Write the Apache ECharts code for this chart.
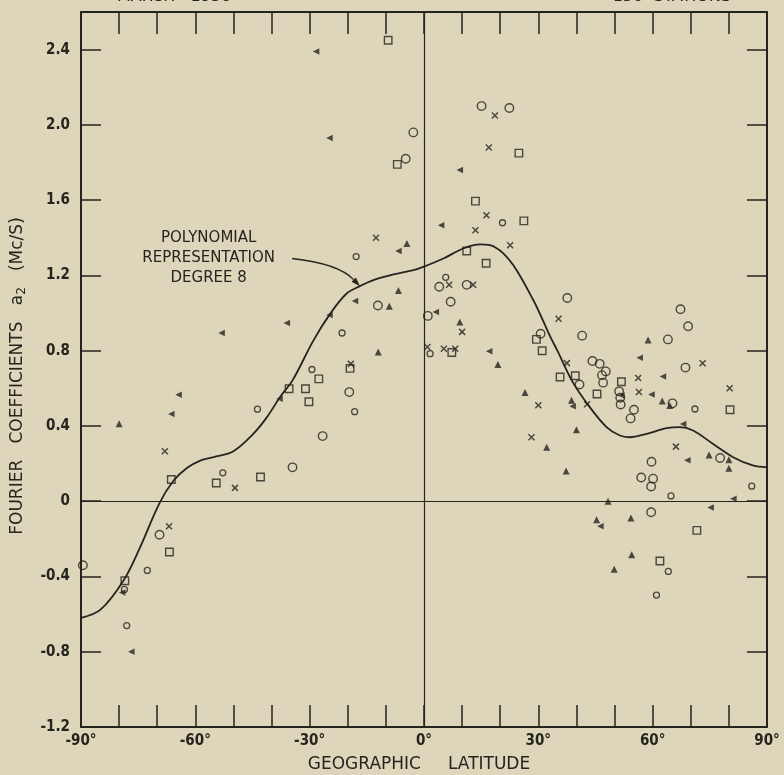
<!DOCTYPE html>
<html>
<head>
<meta charset="utf-8">
<script src="https://cdn.jsdelivr.net/npm/echarts@6/dist/echarts.min.js"></script>
<style>
html,body{margin:0;padding:0;background:#ddd6ba;}
#chart{width:784px;height:775px;}
</style>
</head>
<body>
<div id="chart"></div>
<script>
// ---- data (latitude in degrees, coefficient a2 in Mc/s) ----
const xTickLabels = [-90, -60, -30, 0, 30, 60, 90];
const yTickLabels = [-1.2, -0.8, -0.4, 0, 0.4, 0.8, 1.2, 1.6, 2.0, 2.4];

const circles = [
  [15.1, 2.10], [22.4, 2.09], [-2.8, 1.96], [-4.8, 1.82], [4.0, 1.14], [11.2, 1.15],
  [7.0, 1.06], [1.0, 0.985], [-12.1, 1.04], [30.6, 0.89], [-19.6, 0.58], [37.6, 1.08],
  [41.5, 0.88], [67.3, 1.02], [69.3, 0.93], [64.0, 0.86], [44.2, 0.745], [46.1, 0.73],
  [47.7, 0.69], [46.7, 0.67], [47.0, 0.63], [40.8, 0.62], [68.6, 0.71], [51.2, 0.584],
  [51.5, 0.55], [51.6, 0.514], [65.2, 0.52], [55.1, 0.486], [54.2, 0.44], [59.7, 0.21],
  [77.7, 0.23], [57.0, 0.126], [60.1, 0.12], [59.6, 0.078], [59.6, -0.059], [-26.6, 0.346],
  [-34.5, 0.18], [-69.4, -0.178], [-89.5, -0.34]
];
const smallCircles = [
  [20.6, 1.48], [-17.8, 1.30], [5.7, 1.19], [-21.5, 0.894], [1.6, 0.784], [-18.2, 0.476],
  [71.1, 0.49], [64.8, 0.028], [64.1, -0.373], [61.0, -0.499], [-29.4, 0.70], [-43.7, 0.489],
  [-52.8, 0.151], [-72.6, -0.368], [-78.6, -0.469], [-78.0, -0.661], [86.0, 0.08]
];
const squares = [
  [-9.4, 2.45], [-7.0, 1.79], [24.9, 1.85], [13.5, 1.595], [26.2, 1.49], [11.2, 1.33],
  [16.3, 1.265], [7.3, 0.79], [29.5, 0.86], [31.0, 0.80], [-19.4, 0.706], [39.7, 0.667],
  [35.7, 0.66], [45.4, 0.57], [51.8, 0.635], [80.3, 0.486], [71.6, -0.155], [61.9, -0.318],
  [-27.6, 0.65], [-35.4, 0.598], [-31.1, 0.598], [-30.2, 0.529], [-42.9, 0.129],
  [-54.5, 0.097], [-66.3, 0.115], [-66.8, -0.27], [-78.5, -0.423]
];
const crosses = [
  [18.6, 2.05], [17.0, 1.88], [16.4, 1.52], [13.5, 1.44], [22.6, 1.36], [-12.6, 1.40],
  [6.6, 1.15], [12.9, 1.15], [10.0, 0.90], [0.9, 0.82], [5.2, 0.81], [8.2, 0.81],
  [-19.2, 0.73], [30.0, 0.51], [28.2, 0.34], [35.3, 0.97], [37.5, 0.734], [73.1, 0.733],
  [56.2, 0.655], [56.4, 0.58], [80.2, 0.60], [42.8, 0.515], [66.1, 0.29], [-68.0, 0.266],
  [-49.6, 0.071], [-66.9, -0.133]
];
const upTriangles = [
  [-4.5, 1.37], [-6.7, 1.12], [-9.1, 1.036], [9.4, 0.953], [-12.0, 0.793], [19.4, 0.727],
  [26.5, 0.578], [32.2, 0.287], [58.8, 0.857], [62.5, 0.532], [64.5, 0.509], [38.7, 0.536],
  [40.0, 0.38], [37.3, 0.161], [74.8, 0.245], [80.0, 0.22], [80.0, 0.175], [48.3, 0.0],
  [45.3, -0.098], [54.3, -0.089], [54.5, -0.284], [49.9, -0.361], [-80.0, 0.412]
];
const leftTriangles = [
  [-28.3, 2.39], [-24.8, 1.93], [9.4, 1.76], [4.5, 1.466], [-6.7, 1.33], [-18.1, 1.064],
  [3.1, 1.006], [17.1, 0.797], [-24.8, 0.99], [-36.0, 0.947], [-53.1, 0.894], [-37.9, 0.545],
  [-64.4, 0.566], [-66.3, 0.463], [56.6, 0.762], [62.7, 0.663], [59.7, 0.567], [51.8, 0.562],
  [39.0, 0.505], [68.0, 0.41], [69.1, 0.218], [81.2, 0.013], [75.2, -0.034], [46.3, -0.133],
  [-79.2, -0.485], [-76.8, -0.80]
];
// polynomial representation (degree 8)
const curveLat = [-90, -84.8, -78.8, -74.5, -69.4, -65.7, -62.2, -58.7, -55.2, -50.0, -44.8,
  -41.2, -37.8, -34.5, -29.0, -24.6, -20.3, -16.8, -13.3, -8.0, -2.8, 0, 5.1, 10.3, 14.7,
  17.3, 20.8, 24.3, 28.7, 30.4, 33.0, 35.0, 39.1, 43.5, 47.9, 51.4, 54.0, 58.4, 63.6, 67.1,
  70.6, 75.8, 81.1, 86.3, 90];
const curveVal = [-0.62, -0.575, -0.42, -0.245, -0.01, 0.11, 0.177, 0.216, 0.234, 0.266, 0.358,
  0.447, 0.553, 0.642, 0.855, 0.997, 1.104, 1.143, 1.175, 1.205, 1.228, 1.247, 1.29, 1.343, 1.365,
  1.361, 1.317, 1.228, 1.068, 0.997, 0.88, 0.80, 0.63, 0.50, 0.394, 0.349, 0.34, 0.358, 0.388, 0.394,
  0.376, 0.305, 0.234, 0.19, 0.18];

const annotationLines = ['POLYNOMIAL', 'REPRESENTATION', 'DEGREE 8'];
const xTitle = 'GEOGRAPHIC     LATITUDE';
const yTitle = 'FOURIER   COEFFICIENTS   {a|a}{s|2}   (Mc/S)';
const topLeftText = 'MARCH   1958';
const topRightText = '150  STATIONS';

// ---- styling ----
const INK = '#25241f';
const BG = '#ddd6ba';
const tickFont = "'Liberation Sans Narrow','DejaVu Sans Condensed','Liberation Sans',sans-serif";
const titleFont = "'DejaVu Sans','Liberation Sans',sans-serif";

const chart = echarts.init(document.getElementById('chart'), null, {renderer: 'canvas'});

function fmtY(v) {
  if (v > 2.5) return '';
  if (Math.abs(v) < 1e-9) return '0';
  return v.toFixed(1);
}
function fmtX(v) {
  const r = Math.round(v);
  return xTickLabels.indexOf(r) >= 0 ? r + '°' : '';
}

const openStyle = {color: 'rgba(0,0,0,0)', borderColor: INK, borderWidth: 1.4};
const fillStyle = {color: INK, borderWidth: 0};

const grid = {left: 81, right: 17, top: 12, bottom: 48, containLabel: false};

const axisCommonX = {
  type: 'value', min: -90, max: 90, interval: 10,
  splitLine: {show: false},
  axisLine: {show: true, onZero: false, lineStyle: {color: INK, width: 2}},
  axisTick: {show: true, inside: true, length: 22, lineStyle: {color: INK, width: 1.5}}
};
const axisCommonY = {
  type: 'value', min: -1.2, max: 2.6, interval: 0.4,
  splitLine: {show: false},
  axisLine: {show: true, onZero: false, lineStyle: {color: INK, width: 2}},
  axisTick: {show: true, inside: true, length: 20, lineStyle: {color: INK, width: 1.5}}
};

const option = {
  backgroundColor: BG,
  animation: false,
  grid: grid,
  xAxis: [
    Object.assign({}, axisCommonX, {
      position: 'bottom',
      axisLabel: {show: true, interval: 0, formatter: fmtX, margin: 7, color: INK,
        fontFamily: tickFont, fontWeight: 'bold', fontSize: 15, showMinLabel: true, showMaxLabel: true}
    }),
    Object.assign({}, axisCommonX, {position: 'top', axisLabel: {show: false}})
  ],
  yAxis: [
    Object.assign({}, axisCommonY, {
      position: 'left',
      axisLabel: {show: true, formatter: fmtY, margin: 11, color: INK,
        fontFamily: tickFont, fontWeight: 'bold', fontSize: 15}
    }),
    Object.assign({}, axisCommonY, {position: 'right', axisLabel: {show: false}})
  ],
  series: [
    {
      type: 'line', name: 'poly', xAxisIndex: 0, yAxisIndex: 0,
      data: curveLat.map((x, i) => [x, curveVal[i]]),
      smooth: 0.35, showSymbol: false, symbol: 'none',
      lineStyle: {color: INK, width: 1.8}, z: 3,
      markLine: {
        silent: true, symbol: ['none', 'none'], label: {show: false},
        lineStyle: {color: INK, width: 1.2, type: 'solid'},
        data: [{xAxis: 0}, {yAxis: 0}]
      }
    },
    {type: 'scatter', name: 'circles', data: circles, symbol: 'circle', symbolSize: 8.5, itemStyle: openStyle, z: 4},
    {type: 'scatter', name: 'small circles', data: smallCircles, symbol: 'circle', symbolSize: 6, itemStyle: {color: 'rgba(0,0,0,0)', borderColor: INK, borderWidth: 1.3}, z: 4},
    {type: 'scatter', name: 'squares', data: squares, symbol: 'rect', symbolSize: 7.5, itemStyle: openStyle, z: 4},
    {type: 'scatter', name: 'crosses', data: crosses, symbol: 'path://M0,0L10,10M10,0L0,10', symbolSize: 6, itemStyle: {color: 'rgba(0,0,0,0)', borderColor: INK, borderWidth: 1.5}, z: 4},
    {type: 'scatter', name: 'up triangles', data: upTriangles, symbol: 'triangle', symbolSize: 7, itemStyle: fillStyle, z: 4},
    {type: 'scatter', name: 'left triangles', data: leftTriangles, symbol: 'path://M0,5L10,0L10,10Z', symbolSize: 6.5, itemStyle: fillStyle, z: 4}
  ]
};
chart.setOption(option);

// ---- annotations placed from data coordinates ----
const tip = chart.convertToPixel({gridIndex: 0}, [-16.8, 1.143]);
const start = chart.convertToPixel({gridIndex: 0}, [-34.6, 1.29]);
const ctrl = [start[0] + 46, start[1] + 5];
const dx = tip[0] - ctrl[0], dy = tip[1] - ctrl[1];
const L = Math.sqrt(dx * dx + dy * dy);
const ux = dx / L, uy = dy / L, px = -uy, py = ux;
const back = [tip[0] - 9 * ux, tip[1] - 9 * uy];
const textAnchor = chart.convertToPixel({gridIndex: 0}, [-56.5, 1.29]);

const graphics = [];
annotationLines.forEach((t, i) => {
  graphics.push({
    type: 'text', x: textAnchor[0], y: textAnchor[1] + (i - 1) * 20, z: 10,
    style: {text: t, fill: INK, font: "15px " + titleFont, textAlign: 'center', textVerticalAlign: 'middle'}
  });
});
graphics.push({
  type: 'bezierCurve', z: 10,
  shape: {x1: start[0], y1: start[1], x2: back[0], y2: back[1], cpx1: ctrl[0], cpy1: ctrl[1]},
  style: {stroke: INK, lineWidth: 1.3, fill: null}
});
graphics.push({
  type: 'polygon', z: 10,
  shape: {points: [tip, [back[0] + 3 * px, back[1] + 3 * py], [back[0] - 3 * px, back[1] - 3 * py]]},
  style: {fill: INK}
});
graphics.push({
  type: 'text', x: 419, y: 765, z: 10,
  style: {text: xTitle, fill: INK, font: "17px " + titleFont, textAlign: 'center', textVerticalAlign: 'middle'}
});
graphics.push({
  type: 'text', x: 18, y: 376, rotation: Math.PI / 2, z: 10,
  style: {
    text: yTitle,
    fill: INK, font: "17px " + titleFont, textAlign: 'center', textVerticalAlign: 'middle', lineHeight: 20,
    rich: {
      a: {fontSize: 17, fontFamily: titleFont, fill: INK, lineHeight: 20},
      s: {fontSize: 12, fontFamily: titleFont, fill: INK, lineHeight: 12, verticalAlign: 'bottom'}
    }
  }
});
graphics.push({
  type: 'text', x: 117, y: 5, z: 10,
  style: {text: topLeftText, fill: INK, font: "16px " + titleFont, textAlign: 'left', textVerticalAlign: 'bottom'}
});
graphics.push({
  type: 'text', x: 731, y: 5, z: 10,
  style: {text: topRightText, fill: INK, font: "16px " + titleFont, textAlign: 'right', textVerticalAlign: 'bottom'}
});
chart.setOption({graphic: graphics});
</script>
</body>
</html>
